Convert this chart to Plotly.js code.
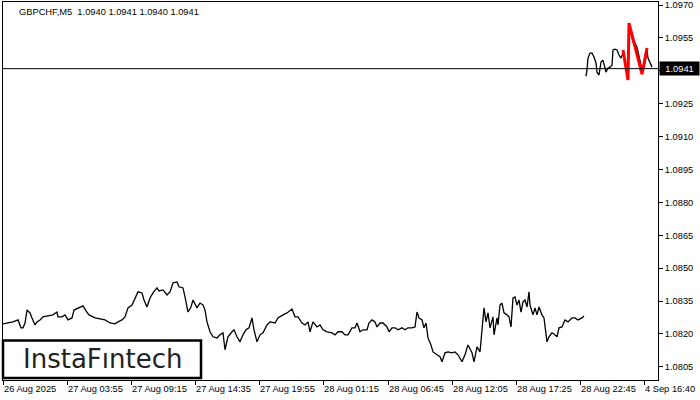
<!DOCTYPE html>
<html>
<head>
<meta charset="utf-8">
<script src="https://cdn.plot.ly/plotly-3.0.1.min.js"></script>
<style>html,body{margin:0;padding:0;background:#fff;}#chart{width:700px;height:400px;}</style>
</head>
<body>
<div id="chart"></div>
<script>
// ---- data (bar index, close price) ----
const lowerIdx = [0,4,10,15,18,20,22,24,27,29,32,34,37,40,45,50,54,55,59,62,65,69,71,75,80,83,86,92,97,102,107,112,115,119,122,125,129,132,135,139,141,144,147,150,154,156,160,164,167,170,174,176,180,182,185,188,190,194,197,200,202,204,207,210,214,217,220,222,225,229,231,234,237,240,243,246,249,251,254,257,260,264,267,272,275,280,284,289,292,295,299,302,305,307,310,314,317,320,324,329,332,335,339,342,345,349,352,354,357,360,364,366,369,372,374,377,380,384,386,389,392,395,399,402,405,409,412,414,416,419,421,423,425,428,430,434,437,439,442,445,449,452,455,459,462,465,469,471,474,477,479,481,483,485,487,490,491,494,495,497,499,501,504,506,508,510,512,514,516,518,520,522,524,526,527,530,532,534,536,539,541,542,544,546,549,551,554,556,559,562,565,569,572,575,579,581];
const lowerClose = [1.08246,1.08250,1.08255,1.08264,1.08228,1.08228,1.08250,1.08309,1.08296,1.08273,1.08241,1.08255,1.08264,1.08278,1.08282,1.08287,1.08300,1.08278,1.08278,1.08287,1.08264,1.08273,1.08309,1.08319,1.08328,1.08305,1.08287,1.08273,1.08268,1.08264,1.08250,1.08246,1.08255,1.08264,1.08278,1.08319,1.08332,1.08364,1.08392,1.08387,1.08355,1.08323,1.08364,1.08387,1.08410,1.08396,1.08401,1.08378,1.08392,1.08433,1.08437,1.08415,1.08410,1.08369,1.08300,1.08323,1.08355,1.08319,1.08341,1.08332,1.08309,1.08255,1.08210,1.08187,1.08182,1.08196,1.08205,1.08128,1.08187,1.08210,1.08219,1.08187,1.08164,1.08196,1.08219,1.08228,1.08273,1.08219,1.08164,1.08196,1.08205,1.08241,1.08255,1.08250,1.08273,1.08287,1.08296,1.08314,1.08278,1.08278,1.08250,1.08241,1.08255,1.08210,1.08255,1.08232,1.08241,1.08219,1.08210,1.08205,1.08196,1.08210,1.08210,1.08196,1.08196,1.08228,1.08228,1.08250,1.08210,1.08219,1.08219,1.08250,1.08264,1.08255,1.08232,1.08250,1.08250,1.08232,1.08210,1.08228,1.08228,1.08219,1.08228,1.08219,1.08228,1.08228,1.08232,1.08300,1.08273,1.08264,1.08228,1.08250,1.08182,1.08150,1.08118,1.08105,1.08096,1.08073,1.08114,1.08118,1.08114,1.08118,1.08105,1.08073,1.08105,1.08150,1.08114,1.08073,1.08141,1.08118,1.08205,1.08319,1.08255,1.08296,1.08228,1.08278,1.08196,1.08273,1.08241,1.08332,1.08341,1.08296,1.08287,1.08278,1.08232,1.08364,1.08369,1.08332,1.08355,1.08300,1.08346,1.08355,1.08323,1.08392,1.08332,1.08287,1.08319,1.08287,1.08323,1.08287,1.08273,1.08228,1.08164,1.08187,1.08205,1.08200,1.08187,1.08228,1.08232,1.08264,1.08255,1.08273,1.08273,1.08264,1.08273,1.08282];

const upperIdx = [583,584,585,587,589,591,593,594,596,598,600,601,603,605,607,609,610,612,614,616,618,620,622,624,625,626,628,630,632,634,636,638,639,641,643,644,645,647,649];
const upperClose = [1.09376,1.09404,1.09458,1.09481,1.09481,1.09463,1.09436,1.09394,1.09381,1.09440,1.09449,1.09426,1.09394,1.09413,1.09417,1.09426,1.09495,1.09499,1.09495,1.09472,1.09458,1.09481,1.09436,1.09404,1.09372,1.09572,1.09577,1.09531,1.09527,1.09508,1.09472,1.09426,1.09394,1.09417,1.09463,1.09495,1.09458,1.09436,1.09417];

const patternIdx = [620,625,626,639,644];
const patternPrice = [1.09495,1.09358,1.09618,1.09385,1.09504];

const xTickIdx = [0,64,128,192,256,320,385,449,513,577,641];
const xTickText = ["26 Aug 2025","27 Aug 03:55","27 Aug 09:15","27 Aug 14:35","27 Aug 19:55","28 Aug 01:15","28 Aug 06:45","28 Aug 12:05","28 Aug 17:25","28 Aug 22:45","4 Sep 16:40"];
const yTickVals = [1.0805,1.0820,1.0835,1.0850,1.0865,1.0880,1.0895,1.0910,1.0925,1.0940,1.0955,1.0970];
// the 1.0940 label sits behind the current-price box in the reference
const yTickText = ["1.0805","1.0820","1.0835","1.0850","1.0865","1.0880","1.0895","1.0910","1.0925","","1.0955","1.0970"];

const symbolText = "GBPCHF,M5\u00a0\u00a01.0940 1.0941 1.0940 1.0941";
const currentPrice = 1.0941;
const currentText = "1.0941";
const logoText = "InstaF\u0131ntech";

const FONT = "Liberation Sans, Arial, sans-serif";

const traces = [
  {x: lowerIdx, y: lowerClose, type: 'scatter', mode: 'lines', line: {color: '#000', width: 1.3}, hoverinfo: 'skip'},
  {x: upperIdx, y: upperClose, type: 'scatter', mode: 'lines', line: {color: '#000', width: 1.3}, hoverinfo: 'skip'},
  {x: patternIdx, y: patternPrice, type: 'scatter', mode: 'lines', line: {color: '#ff0000', width: 3}, hoverinfo: 'skip'}
];

const layout = {
  width: 700, height: 400,
  margin: {l: 3, r: 42, t: 2, b: 20, pad: 0},
  paper_bgcolor: '#fff', plot_bgcolor: '#fff',
  showlegend: false,
  font: {family: FONT, size: 9.3, color: '#000'},
  xaxis: {
    range: [0, 655], showgrid: false, zeroline: false,
    showline: true, mirror: true, linecolor: '#000', linewidth: 1,
    tickmode: 'array', tickvals: xTickIdx, ticktext: xTickText,
    ticks: 'outside', ticklen: 4, tickcolor: '#000', tickwidth: 1,
    ticklabelposition: 'outside right',
    tickfont: {family: FONT, size: 9.3, color: '#000'}
  },
  yaxis: {
    range: [1.07990, 1.09714], side: 'right', showgrid: false, zeroline: false,
    showline: true, mirror: true, linecolor: '#000', linewidth: 1,
    tickmode: 'array', tickvals: yTickVals, ticktext: yTickText,
    ticks: 'outside', ticklen: 4, tickcolor: '#000', tickwidth: 1,
    tickfont: {family: FONT, size: 9.3, color: '#000'}
  },
  shapes: [
    {type: 'line', xref: 'paper', x0: 0, x1: 1, yref: 'y', y0: currentPrice, y1: currentPrice, line: {color: '#000', width: 1}},
    {type: 'rect', xref: 'paper', yref: 'paper', x0: 0, x1: 0.3023, y0: 0.0053, y1: 0.1045, fillcolor: '#fff', line: {color: '#000', width: 2.5}, layer: 'above'}
  ],
  annotations: [
    {xref: 'paper', yref: 'paper', x: 0.0214, y: 0.9735, xanchor: 'left', yanchor: 'middle', text: symbolText, showarrow: false, font: {family: FONT, size: 9.3, color: '#000'}},
    {xref: 'paper', yref: 'y', x: 1, xshift: 1, y: currentPrice, xanchor: 'left', yanchor: 'middle', text: currentText, showarrow: false, bgcolor: '#000', borderpad: 1.5, width: 36, align: 'center', font: {family: FONT, size: 9.3, color: '#fff'}},
    {xref: 'paper', yref: 'paper', x: 0.152, y: 0.055, xanchor: 'center', yanchor: 'middle', text: logoText, showarrow: false, font: {family: 'DejaVu Sans, sans-serif', size: 26, color: '#222'}}
  ]
};

Plotly.newPlot('chart', traces, layout, {staticPlot: true, displayModeBar: false});
</script>
</body>
</html>
